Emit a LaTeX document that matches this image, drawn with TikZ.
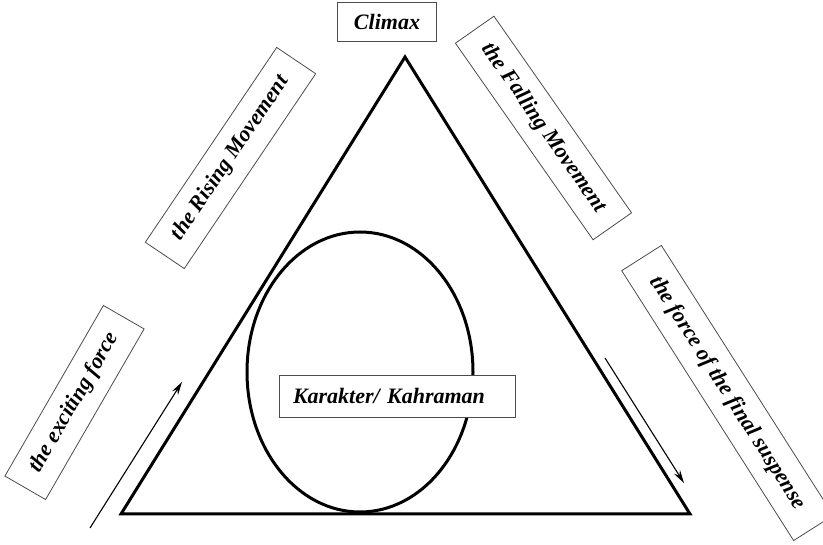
\documentclass[tikz,border=0pt]{standalone}
\usepackage{fontspec}
\setmainfont{Liberation Serif}
\usepackage{tikz}
\usetikzlibrary{positioning,shapes.geometric,arrows.meta}

\begin{document}
\begin{tikzpicture}[
    x=1pt, y=-1pt,
    label/.style={rectangle, draw=black!70, fill=white, line width=0.8pt, inner sep=0pt,
        font=\fontsize{22}{26}\selectfont\bfseries\itshape},
    side/.style={label, minimum height=47pt},
    arrow/.style={-{Stealth[length=13pt,width=7pt]}, line width=1.1pt}
]
\useasboundingbox (0,0) rectangle (823,545);

% the triangle
\coordinate (top) at (405,57);
\coordinate (left) at (121,514);
\coordinate (right) at (690,514);
\draw[line width=3pt, line join=miter] (top) -- (right) -- (left) -- cycle;

% character in the middle
\node[ellipse, draw, line width=3pt, minimum width=226pt, minimum height=280pt] (hero) at (360,372) {};
\node[label, text width=208pt, inner xsep=14pt, align=left, minimum height=42pt] (karakter) at (397,396) {Karakter/ Kahraman};

\node[label, minimum width=99pt, minimum height=39pt] (climax) at (387,22) {Climax};

% the four stages
\node[side, minimum width=235pt, rotate=56] (rising) at (230.5,158) {the Rising Movement};
\node[side, minimum width=240pt, rotate=-55] (falling) at (543.5,128) {the Falling Movement};
\node[side, minimum width=197pt, rotate=60] (exciting) at (74.5,402.5) {the exciting force};
\node[side, minimum width=320pt, rotate=-57.5] (suspense) at (727.5,393) {the force of the final suspense};

% arrows along the sides
\coordinate (up0) at (90,528);
\coordinate (up1) at (182,382);
\coordinate (down0) at (605,358);
\coordinate (down1) at (684,483);
\draw[arrow] (up0) -- (up1);
\draw[arrow] (down0) -- (down1);

\end{tikzpicture}
\end{document}
